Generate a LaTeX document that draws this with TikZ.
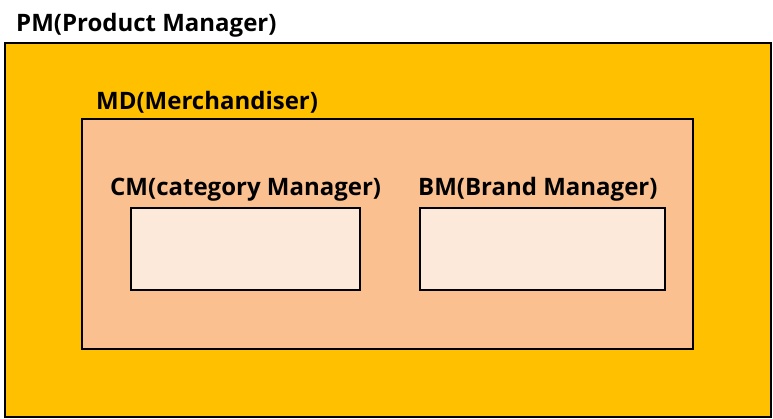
\documentclass[tikz,border=0pt]{standalone}
\usepackage{fontspec}
\setmainfont{Open Sans}
\definecolor{pmfill}{HTML}{FFC000}
\definecolor{mdfill}{HTML}{FAC090}
\definecolor{subfill}{HTML}{FDE9D9}
\begin{document}
\begin{tikzpicture}[x=1pt,y=-1pt,
  boxstyle/.style={draw=black,line width=2pt},
  lbl/.style={anchor=base west,inner sep=0pt,font=\fontsize{24}{28}\selectfont\bfseries}]
\useasboundingbox (0,0) rectangle (773,419);
\draw[boxstyle,fill=pmfill] (5,43) rectangle (771,417);
\draw[boxstyle,fill=mdfill] (82,119) rectangle (693,349);
\draw[boxstyle,fill=subfill] (131,208) rectangle (360,290);
\draw[boxstyle,fill=subfill] (420,208) rectangle (665,290);
\node[lbl] (pm) at (16,32) {PM(Product Manager)};
\node[lbl] (md) at (96,110) {MD(Merchandiser)};
\node[lbl] (cm) at (110,196) {CM(category Manager)};
\node[lbl] (bm) at (418,196) {BM(Brand Manager)};
\end{tikzpicture}
\end{document}
